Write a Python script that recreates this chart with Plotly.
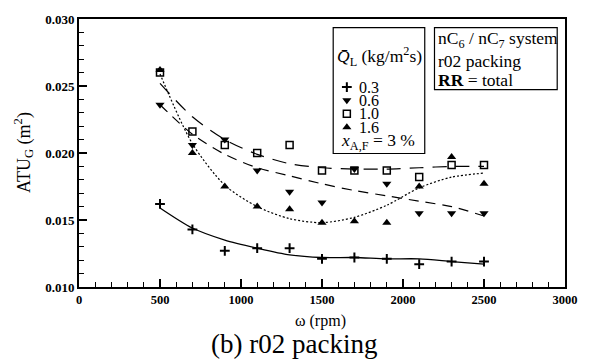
import plotly.graph_objects as go

# ---- data ----
rpm = [500, 700, 900, 1100, 1300, 1500, 1700, 1900, 2100, 2300, 2500]
q03 = [0.0162, 0.0143, 0.0127, 0.0129, 0.0129, 0.0121, 0.0122, 0.0121, 0.0117, 0.0119, 0.0119]
q06 = [0.0236, 0.0206, 0.0210, 0.0187, 0.0171, 0.0163, 0.0188, 0.0177, 0.0155, 0.0155, 0.0155]
q10 = [0.0260, 0.0216, 0.0206, 0.0200, 0.0206, 0.0187, 0.0187, 0.0187, 0.0182, 0.0191, 0.0191]
q16 = [0.0262, 0.0200, 0.0175, 0.0160, 0.0158, 0.0148, 0.0149, 0.0148, 0.0175, 0.0197, 0.0177]

# trend curves
fit03 = [0.0159, 0.0144, 0.0135, 0.0129, 0.0124, 0.0122, 0.0122, 0.0121, 0.0121, 0.0119, 0.0117]
fit06 = [0.0236, 0.0214, 0.0199, 0.0189, 0.0183, 0.0177, 0.0172, 0.0168, 0.0164, 0.0160, 0.0153]
fit10 = [0.0252, 0.0227, 0.0210, 0.0199, 0.0192, 0.0189, 0.0188, 0.0188, 0.0189, 0.0190, 0.0190]
fit16 = [0.0259, 0.0207, 0.0176, 0.0160, 0.0151, 0.0148, 0.0152, 0.0161, 0.0174, 0.0182, 0.0185]

labels = ["0.3", "0.6", "1.0", "1.6"]
x_ticks = [0, 500, 1000, 1500, 2000, 2500, 3000]
y_ticks = [0.010, 0.015, 0.020, 0.025, 0.030]

FONT = "Liberation Serif, Times New Roman, serif"
BLACK = "black"

W, H = 590, 362
L, R, T, B = 79, 12, 14, 75
PW, PH = W - L - R, H - T - B


def px(xp):
    return (xp - L) / PW


def py(yp):
    return (H - B - yp) / PH


marker_styles = [
    dict(symbol="cross-thin", size=7, line=dict(width=2, color=BLACK), color=BLACK),
    dict(symbol="triangle-down", size=8, color=BLACK, line=dict(width=0)),
    dict(symbol="square-open", size=7, color=BLACK, line=dict(width=1.5, color=BLACK)),
    dict(symbol="triangle-up", size=8, color=BLACK, line=dict(width=0)),
]
line_styles = [
    dict(color=BLACK, width=1.3, dash="solid"),
    dict(color=BLACK, width=1.2, dash="10px,7px"),
    dict(color=BLACK, width=1.2, dash="14px,9px"),
    dict(color=BLACK, width=1.2, dash="2px,2px"),
]

fig = go.Figure()
for fit, ls in zip([fit03, fit06, fit10, fit16], line_styles):
    fig.add_trace(go.Scatter(x=rpm, y=fit, mode="lines", line=dict(shape="spline", smoothing=0.8, **ls),
                             showlegend=False, hoverinfo="skip"))
for ys, ms, lab in zip([q03, q06, q10, q16], marker_styles, labels):
    fig.add_trace(go.Scatter(x=rpm, y=ys, mode="markers", marker=ms, name=lab, showlegend=False))

# legend markers on overlay axes spanning the plot area (0..1)
leg_y = [py(83.3), py(96.7), py(110.5), py(124.3)]
for ms, yy in zip(marker_styles, leg_y):
    fig.add_trace(go.Scatter(x=[px(354)], y=[yy], mode="markers", marker=ms, xaxis="x2", yaxis="y2",
                             showlegend=False, hoverinfo="skip", cliponaxis=False))

BIG = 17.5
ann = []
for lab, yy in zip(labels, leg_y):
    ann.append(dict(text=lab, x=px(364), y=yy, xref="paper", yref="paper", xanchor="left",
                    yanchor="middle", showarrow=False, font=dict(family=FONT, size=16, color=BLACK)))
ann.append(dict(text="<i>Q\u0304</i><sub>L</sub> (kg/m<sup>2</sup>s)", x=px(388), y=py(52), xref="paper",
                yref="paper", xanchor="center", yanchor="middle", showarrow=False,
                font=dict(family=FONT, size=BIG, color=BLACK)))
ann.append(dict(text="<i>x</i><sub>A,F</sub> = 3 %", x=px(386), y=py(139), xref="paper", yref="paper",
                xanchor="center", yanchor="middle", showarrow=False,
                font=dict(family=FONT, size=BIG, color=BLACK)))
for txt, yy in zip(["nC<sub>6</sub> / nC<sub>7</sub> system", "r02 packing", "<b>RR</b> = total"],
                   [35, 56.5, 76]):
    ann.append(dict(text=txt, x=px(446), y=py(yy), xref="paper", yref="paper", xanchor="left",
                    yanchor="middle", showarrow=False, font=dict(family=FONT, size=BIG, color=BLACK)))
ann.append(dict(text="ATU<sub>G</sub> (m<sup>2</sup>)", x=px(22), y=py(150), xref="paper", yref="paper",
                textangle=-90, xanchor="center", yanchor="middle", showarrow=False,
                font=dict(family=FONT, size=18, color=BLACK)))
ann.append(dict(text="ω (rpm)", x=px(327), y=py(322), xref="paper", yref="paper", xanchor="center",
                yanchor="middle", showarrow=False, font=dict(family=FONT, size=16, color=BLACK)))
ann.append(dict(text="(b) r02 packing", x=px(300), y=py(345), xref="paper", yref="paper",
                xanchor="center", yanchor="middle", showarrow=False,
                font=dict(family=FONT, size=27, color=BLACK)))

shapes = [
    dict(type="rect", xref="paper", yref="paper", x0=px(340), x1=px(434), y0=py(151), y1=py(22.7),
         line=dict(color=BLACK, width=1.2), fillcolor="rgba(0,0,0,0)"),
    dict(type="rect", xref="paper", yref="paper", x0=px(444), x1=px(570), y0=py(86), y1=py(22.7),
         line=dict(color=BLACK, width=1.2), fillcolor="rgba(0,0,0,0)"),
]

fig.update_layout(
    width=W, height=H, margin=dict(l=L, r=R, t=T, b=B),
    paper_bgcolor="white", plot_bgcolor="white",
    font=dict(family=FONT, color=BLACK),
    xaxis=dict(range=[0, 3000], tickvals=x_ticks, ticktext=[f"<b>{v}</b>" for v in x_ticks],
               ticks="inside", ticklen=8, tickwidth=1.5, tickcolor=BLACK,
               minor=dict(dtick=100, ticks="inside", ticklen=5, tickwidth=1.2, tickcolor=BLACK),
               showline=True, linewidth=2, linecolor=BLACK, mirror=True, showgrid=False, zeroline=False,
               tickfont=dict(family=FONT, size=12.5, color=BLACK)),
    yaxis=dict(range=[0.010, 0.030], tickvals=y_ticks, ticktext=[f"<b>{v:.3f}</b>" for v in y_ticks],
               ticks="inside", ticklen=8, tickwidth=1.5, tickcolor=BLACK,
               minor=dict(dtick=0.001, ticks="inside", ticklen=5, tickwidth=1.2, tickcolor=BLACK),
               showline=True, linewidth=2, linecolor=BLACK, mirror=True, showgrid=False, zeroline=False,
               tickfont=dict(family=FONT, size=13, color=BLACK)),
    xaxis2=dict(overlaying="x", range=[0, 1], visible=False, fixedrange=True),
    yaxis2=dict(overlaying="y", range=[0, 1], visible=False, fixedrange=True),
    annotations=ann, shapes=shapes, showlegend=False,
)

fig.write_html("out.html")
